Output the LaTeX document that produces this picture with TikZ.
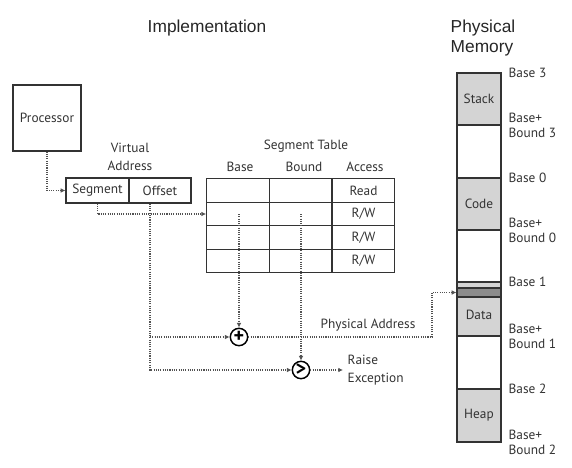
\documentclass[tikz,border=0pt]{standalone}
\usepackage{fontspec}
\setmainfont{PT Sans}
\newfontfamily\headfont{Liberation Sans}
\usetikzlibrary{arrows.meta}
\definecolor{ink}{HTML}{333333}
\definecolor{segfill}{HTML}{D4D4D4}
\definecolor{hitfill}{HTML}{8C8C8C}
\tikzset{
	box/.style = {
		draw=ink,
		line width=0.9pt,
		inner sep=0pt,
		text=ink,
		font=\fontsize{10}{12}\selectfont
	},
	cell/.style = {
		box,
		minimum width=47pt,
		minimum height=17.6pt
	},
	memblk/.style = {
		box,
		minimum width=33pt
	},
	op/.style = {
		draw=black,
		circle,
		line width=1.1pt,
		minimum size=13pt,
		inner sep=0pt,
		font=\fontsize{15}{15}\selectfont\bfseries
	},
	dots/.style = {
		draw=ink!85,
		line width=0.8pt,
		dash pattern=on 0.8pt off 0.9pt
	},
	flow/.style = {
		dots,
		-{Latex[length=3.5pt,width=3.5pt]}
	},
	lbl/.style = {
		text=ink,
		font=\fontsize{10}{13.5}\selectfont
	},
	title/.style = {
		text=black!85,
		font=\headfont\fontsize{13}{15}\selectfont
	}
}

\begin{document}
\begin{tikzpicture}[x=0.75pt, y=-0.75pt]
	\useasboundingbox (0,0) rectangle (572,468);

	% titles
	\node[title] (impl) at (207,28) {Implementation};
	\node[title, anchor=west, align=left] (physmem) at (446,38) {Physical\\Memory};

	% processor and virtual address
	\node[box, minimum width=51pt, minimum height=49.5pt] (proc) at (47,118) {Processor};
	\node[lbl, align=center] (valbl) at (130,157) {Virtual\\Address};
	\node[box, minimum width=47.25pt, minimum height=18.75pt] (seg) at (97.5,190.5) {Segment};
	\node[box, minimum width=46.5pt, minimum height=18.75pt] (off) at (160,190.5) {Offset};

	% segment table
	\node[lbl] (sttl) at (306,146) {Segment Table};
	\node[lbl] (hbase) at (240,167) {Base};
	\node[lbl] (hbound) at (304,167) {Bound};
	\node[lbl] (hacc) at (365,167) {Access};
	\foreach \r/\acc in {1/Read, 2/{R/W}, 3/{R/W}, 4/{R/W}} {
		\node[cell] (base\r) at (238,{167+23.5*\r}) {};
		\node[cell] (bound\r) at (300.5,{167+23.5*\r}) {};
		\node[cell] (acc\r) at (363.5,{167+23.5*\r}) {\acc};
	}

	% adder and comparator
	\node[op] (plus) at (239,337) {+};
	\node[op] (cmp) at (301,370) {>};
	\node[lbl] (palbl) at (368,325) {Physical Address};
	\node[lbl, anchor=west, align=left] (exc) at (343,370) {Raise\\Exception};

	% physical memory
	\foreach \n/\t/\b/\c/\l in {stack/73/125/segfill/Stack, free1/125/178/white/{}, code/178/230/segfill/Code, free2/230/282/white/{}, data/282/336/segfill/{}, free3/336/389/white/{}, heap/389/442/segfill/Heap}
		\node[memblk, fill=\c, minimum height={(\b-\t)*0.75pt}] (\n) at (479,{(\t+\b)/2}) {\l};
	\node[memblk, fill=hitfill, minimum height=6.75pt] (hit) at (479,292.5) {};
	\node[lbl] (datalbl) at (479,315) {Data};
	\foreach \y/\txt [count=\i] in {73/Base 3, 125/{Base+\\Bound 3}, 178/Base 0, 230/{Base+\\Bound 0}, 282/Base 1, 336/{Base+\\Bound 1}, 389/Base 2, 442/{Base+\\Bound 2}}
		\node[lbl, anchor=west, align=left, font=\fontsize{10}{11.25}\selectfont] (mlbl\i) at (504,\y) {\txt};

	% connectors
	\coordinate (offx) at ([xshift=-7.5pt]off.south);
	\coordinate (turn) at (432,0);
	\draw[flow] (proc.south) |- (seg.west);
	\draw[flow] (seg.south) |- (base2.west);
	\draw[flow] (plus.north |- base2.center) -- (plus.north);
	\draw[flow] (cmp.north |- bound2.center) -- (cmp.north);
	\draw[flow] (offx) |- (cmp.west);
	\draw[flow] (offx |- plus.west) -- (plus.west);
	\draw[flow] (plus.east) -| (turn |- hit.west) -- (hit.west);
	\draw[flow] (cmp.east) -- (exc.west);
\end{tikzpicture}
\end{document}
